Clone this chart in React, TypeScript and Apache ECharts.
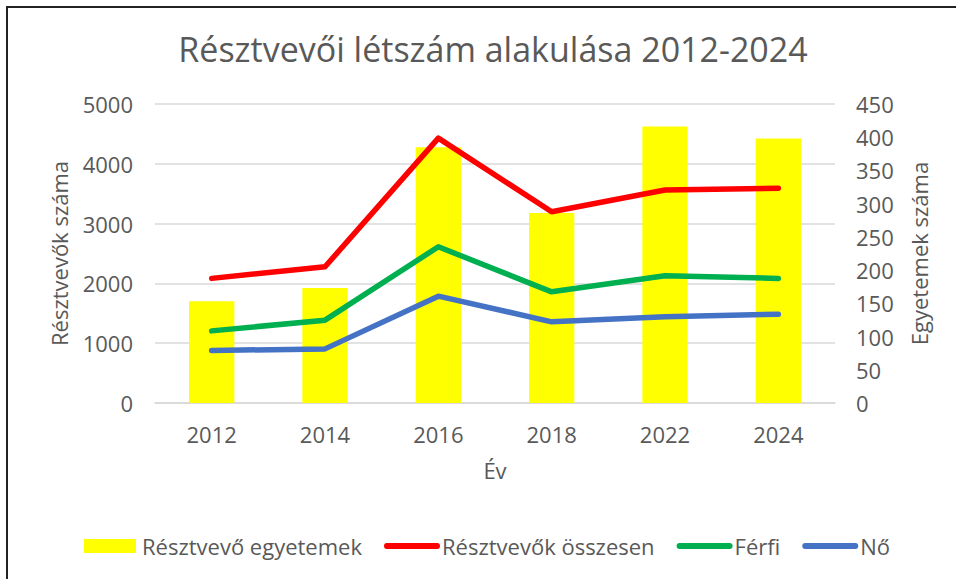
import React, { useEffect, useRef } from "react";
import * as echarts from "echarts";

const categories = ["2012", "2014", "2016", "2018", "2022", "2024"];
const universities = [153, 173, 385, 286, 416, 398];
const totalParticipants = [2084, 2278, 4429, 3199, 3563, 3591];
const male = [1206, 1385, 2613, 1859, 2127, 2084];
const female = [878, 905, 1787, 1357, 1441, 1486];

const FONT = "'Open Sans', 'Liberation Sans', Arial, sans-serif";
const TXT = "#595959";
const LINE_ICON = "path://M3,0 H55 A3,3 0 0 1 55,6 H3 A3,3 0 0 1 3,0 Z";
const BAR_ICON = "path://M0,0 H52 V14 H0 Z";

export default function App() {
  const ref = useRef<HTMLDivElement>(null);
  useEffect(() => {
    if (!ref.current) return;
    const chart = echarts.init(ref.current, null, { renderer: "svg" });
    chart.setOption({
      animation: false,
      backgroundColor: "#ffffff",
      textStyle: { fontFamily: FONT, color: TXT },
      title: {
        text: "Résztvevői létszám alakulása 2012-2024",
        left: 488,
        top: 27,
        textAlign: "center",
        textStyle: { fontFamily: FONT, fontSize: 34, fontWeight: "normal", color: TXT },
      },
      grid: { left: 155, right: 121, top: 104, bottom: 176, containLabel: false },
      legend: {
        left: 79,
        top: 530,
        itemWidth: 56,
        itemHeight: 14,
        itemGap: 22,
        symbolKeepAspect: true,
        textStyle: { fontFamily: FONT, fontSize: 22, color: TXT, padding: [0, 0, 0, -3] },
        data: [
          { name: "Résztvevő egyetemek", icon: BAR_ICON, textStyle: { padding: [0, 0, 0, -1] } },
          { name: "Résztvevők összesen", icon: LINE_ICON },
          { name: "Férfi", icon: LINE_ICON },
          { name: "Nő", icon: LINE_ICON },
        ],
      },
      graphic: [
        { type: "line", shape: { x1: 7, y1: 6, x2: 7, y2: 579 }, style: { stroke: "#222", lineWidth: 2 } },
        { type: "line", shape: { x1: 6, y1: 7, x2: 956, y2: 7 }, style: { stroke: "#222", lineWidth: 2 } },
      ],
      xAxis: {
        type: "category",
        data: categories,
        name: "Év",
        nameLocation: "middle",
        nameGap: 56,
        nameTextStyle: { fontFamily: FONT, fontSize: 22, color: TXT },
        axisLine: { show: true, lineStyle: { color: "#d9d9d9", width: 1.5 } },
        axisTick: { show: false },
        axisLabel: { fontFamily: FONT, fontSize: 22, color: TXT, margin: 20 },
      },
      yAxis: [
        {
          type: "value",
          min: 0,
          max: 5000,
          interval: 1000,
          name: "Résztvevők száma",
          nameLocation: "middle",
          nameRotate: 90,
          nameGap: 85,
          nameTextStyle: { fontFamily: FONT, fontSize: 22, color: TXT },
          axisLine: { show: false },
          axisTick: { show: false },
          axisLabel: {
            fontFamily: FONT,
            fontSize: 22,
            color: TXT,
            margin: 22,
            formatter: (v: number) => String(v),
          },
          splitLine: { show: true, lineStyle: { color: "#d9d9d9", width: 1.5 } },
        },
        {
          type: "value",
          min: 0,
          max: 450,
          interval: 50,
          position: "right",
          name: "Egyetemek száma",
          nameLocation: "middle",
          nameRotate: 90,
          nameGap: 73,
          nameTextStyle: { fontFamily: FONT, fontSize: 22, color: TXT },
          axisLine: { show: false },
          axisTick: { show: false },
          axisLabel: { fontFamily: FONT, fontSize: 22, color: TXT, margin: 21 },
          splitLine: { show: false },
        },
      ],
      series: [
        {
          name: "Résztvevő egyetemek",
          type: "bar",
          yAxisIndex: 1,
          data: universities,
          barWidth: "40%",
          itemStyle: { color: "#FFFF00" },
        },
        {
          name: "Résztvevők összesen",
          type: "line",
          yAxisIndex: 0,
          data: totalParticipants,
          symbol: "none",
          lineStyle: { color: "#FF0000", width: 5.5, cap: "round", join: "round" },
          itemStyle: { color: "#FF0000" },
        },
        {
          name: "Férfi",
          type: "line",
          yAxisIndex: 0,
          data: male,
          symbol: "none",
          lineStyle: { color: "#00B050", width: 5.5, cap: "round", join: "round" },
          itemStyle: { color: "#00B050" },
        },
        {
          name: "Nő",
          type: "line",
          yAxisIndex: 0,
          data: female,
          symbol: "none",
          lineStyle: { color: "#4472C4", width: 5.5, cap: "round", join: "round" },
          itemStyle: { color: "#4472C4" },
        },
      ],
    });
    return () => chart.dispose();
  }, []);
  return (
    <div
      ref={ref}
      style={{ position: "fixed", left: 0, top: 0, width: 956, height: 579, background: "#fff" }}
    />
  );
}
